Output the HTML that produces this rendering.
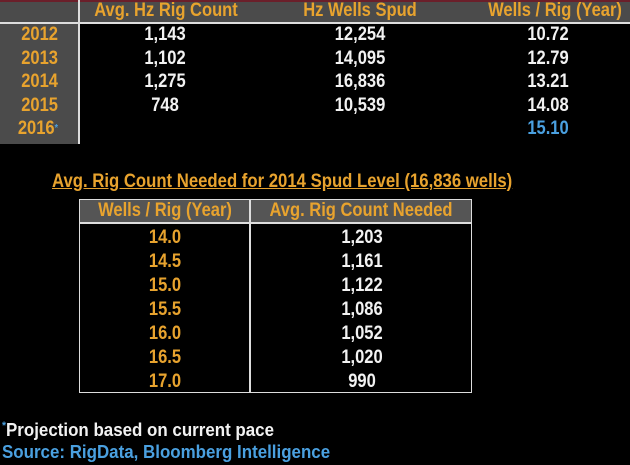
<!DOCTYPE html>
<html><head><style>
body{margin:0;width:630px;height:465px;background:#000;overflow:hidden;position:relative;font-family:"Liberation Sans",sans-serif;font-weight:bold;}
.a{position:absolute;white-space:nowrap;}
.o{color:#e8a32e;}
.w{color:#f2f2f2;}
.c{transform:translateX(-50%) scaleX(0.87);}
.r{transform:translateX(-100%) scaleX(0.87);transform-origin:right top;}
.l{transform:scaleX(0.88);transform-origin:left top;}
</style></head><body>
<div class="a" style="left:0;top:0;width:630px;height:22px;background:#4b4b4b;border-top:2px solid #6b1f2a;box-sizing:border-box"></div>
<div class="a" style="left:0;top:22px;width:78px;height:122px;background:#4b4b4b"></div>
<div class="a" style="left:0;top:22px;width:630px;height:2px;background:#ddd"></div>
<div class="a" style="left:78px;top:0;width:2px;height:144px;background:#ddd"></div>
<div class="a o c" style="left:166px;top:0px;font-size:19px">Avg. Hz Rig Count</div>
<div class="a o c" style="left:360px;top:0px;font-size:19px">Hz Wells Spud</div>
<div class="a o c" style="left:555px;top:0px;font-size:19px">Wells / Rig (Year)</div>
<div class="a o r" style="left:58px;top:23px;font-size:19px;line-height:23.5px;text-align:right">2012<br>2013<br>2014<br>2015<br>2016<span style="font-size:10px;vertical-align:top;color:#4aa0e0">*</span></div>
<div class="a w c" style="left:165px;top:23px;font-size:19px;line-height:23.5px;text-align:center">1,143<br>1,102<br>1,275<br>748</div>
<div class="a w c" style="left:360px;top:23px;font-size:19px;line-height:23.5px;text-align:center">12,254<br>14,095<br>16,836<br>10,539</div>
<div class="a w c" style="left:548px;top:23px;font-size:19px;line-height:23.5px;text-align:center">10.72<br>12.79<br>13.21<br>14.08<br><span style="color:#4aa0e0">15.10</span></div>
<div class="a o l" style="left:52px;top:171px;font-size:19px;text-decoration:underline">Avg. Rig Count Needed for 2014 Spud Level (16,836 wells)</div>
<div class="a" style="left:79px;top:199px;width:393px;height:194px;border:1px solid #ddd;box-sizing:border-box"></div>
<div class="a" style="left:80px;top:200px;width:391px;height:23px;background:#555"></div>
<div class="a" style="left:79px;top:222px;width:393px;height:2px;background:#ddd"></div>
<div class="a" style="left:249px;top:199px;width:2px;height:194px;background:#ddd"></div>
<div class="a o c" style="left:165px;top:200px;font-size:19px">Wells / Rig (Year)</div>
<div class="a o c" style="left:361px;top:200px;font-size:19px">Avg. Rig Count Needed</div>
<div class="a o c" style="left:165px;top:226px;font-size:19px;line-height:24px;text-align:center">14.0<br>14.5<br>15.0<br>15.5<br>16.0<br>16.5<br>17.0</div>
<div class="a w c" style="left:362px;top:226px;font-size:19px;line-height:24px;text-align:center">1,203<br>1,161<br>1,122<br>1,086<br>1,052<br>1,020<br>990</div>
<div class="a w" style="left:2px;top:420px;font-size:18px;transform:scaleX(0.94);transform-origin:left top"><span style="color:#4aa0e0;font-size:11px;vertical-align:top">*</span>Projection based on current pace</div>
<div class="a" style="left:2px;top:442px;font-size:18px;color:#4aa0e0;transform:scaleX(0.94);transform-origin:left top">Source: RigData, Bloomberg Intelligence</div>
</body></html>
